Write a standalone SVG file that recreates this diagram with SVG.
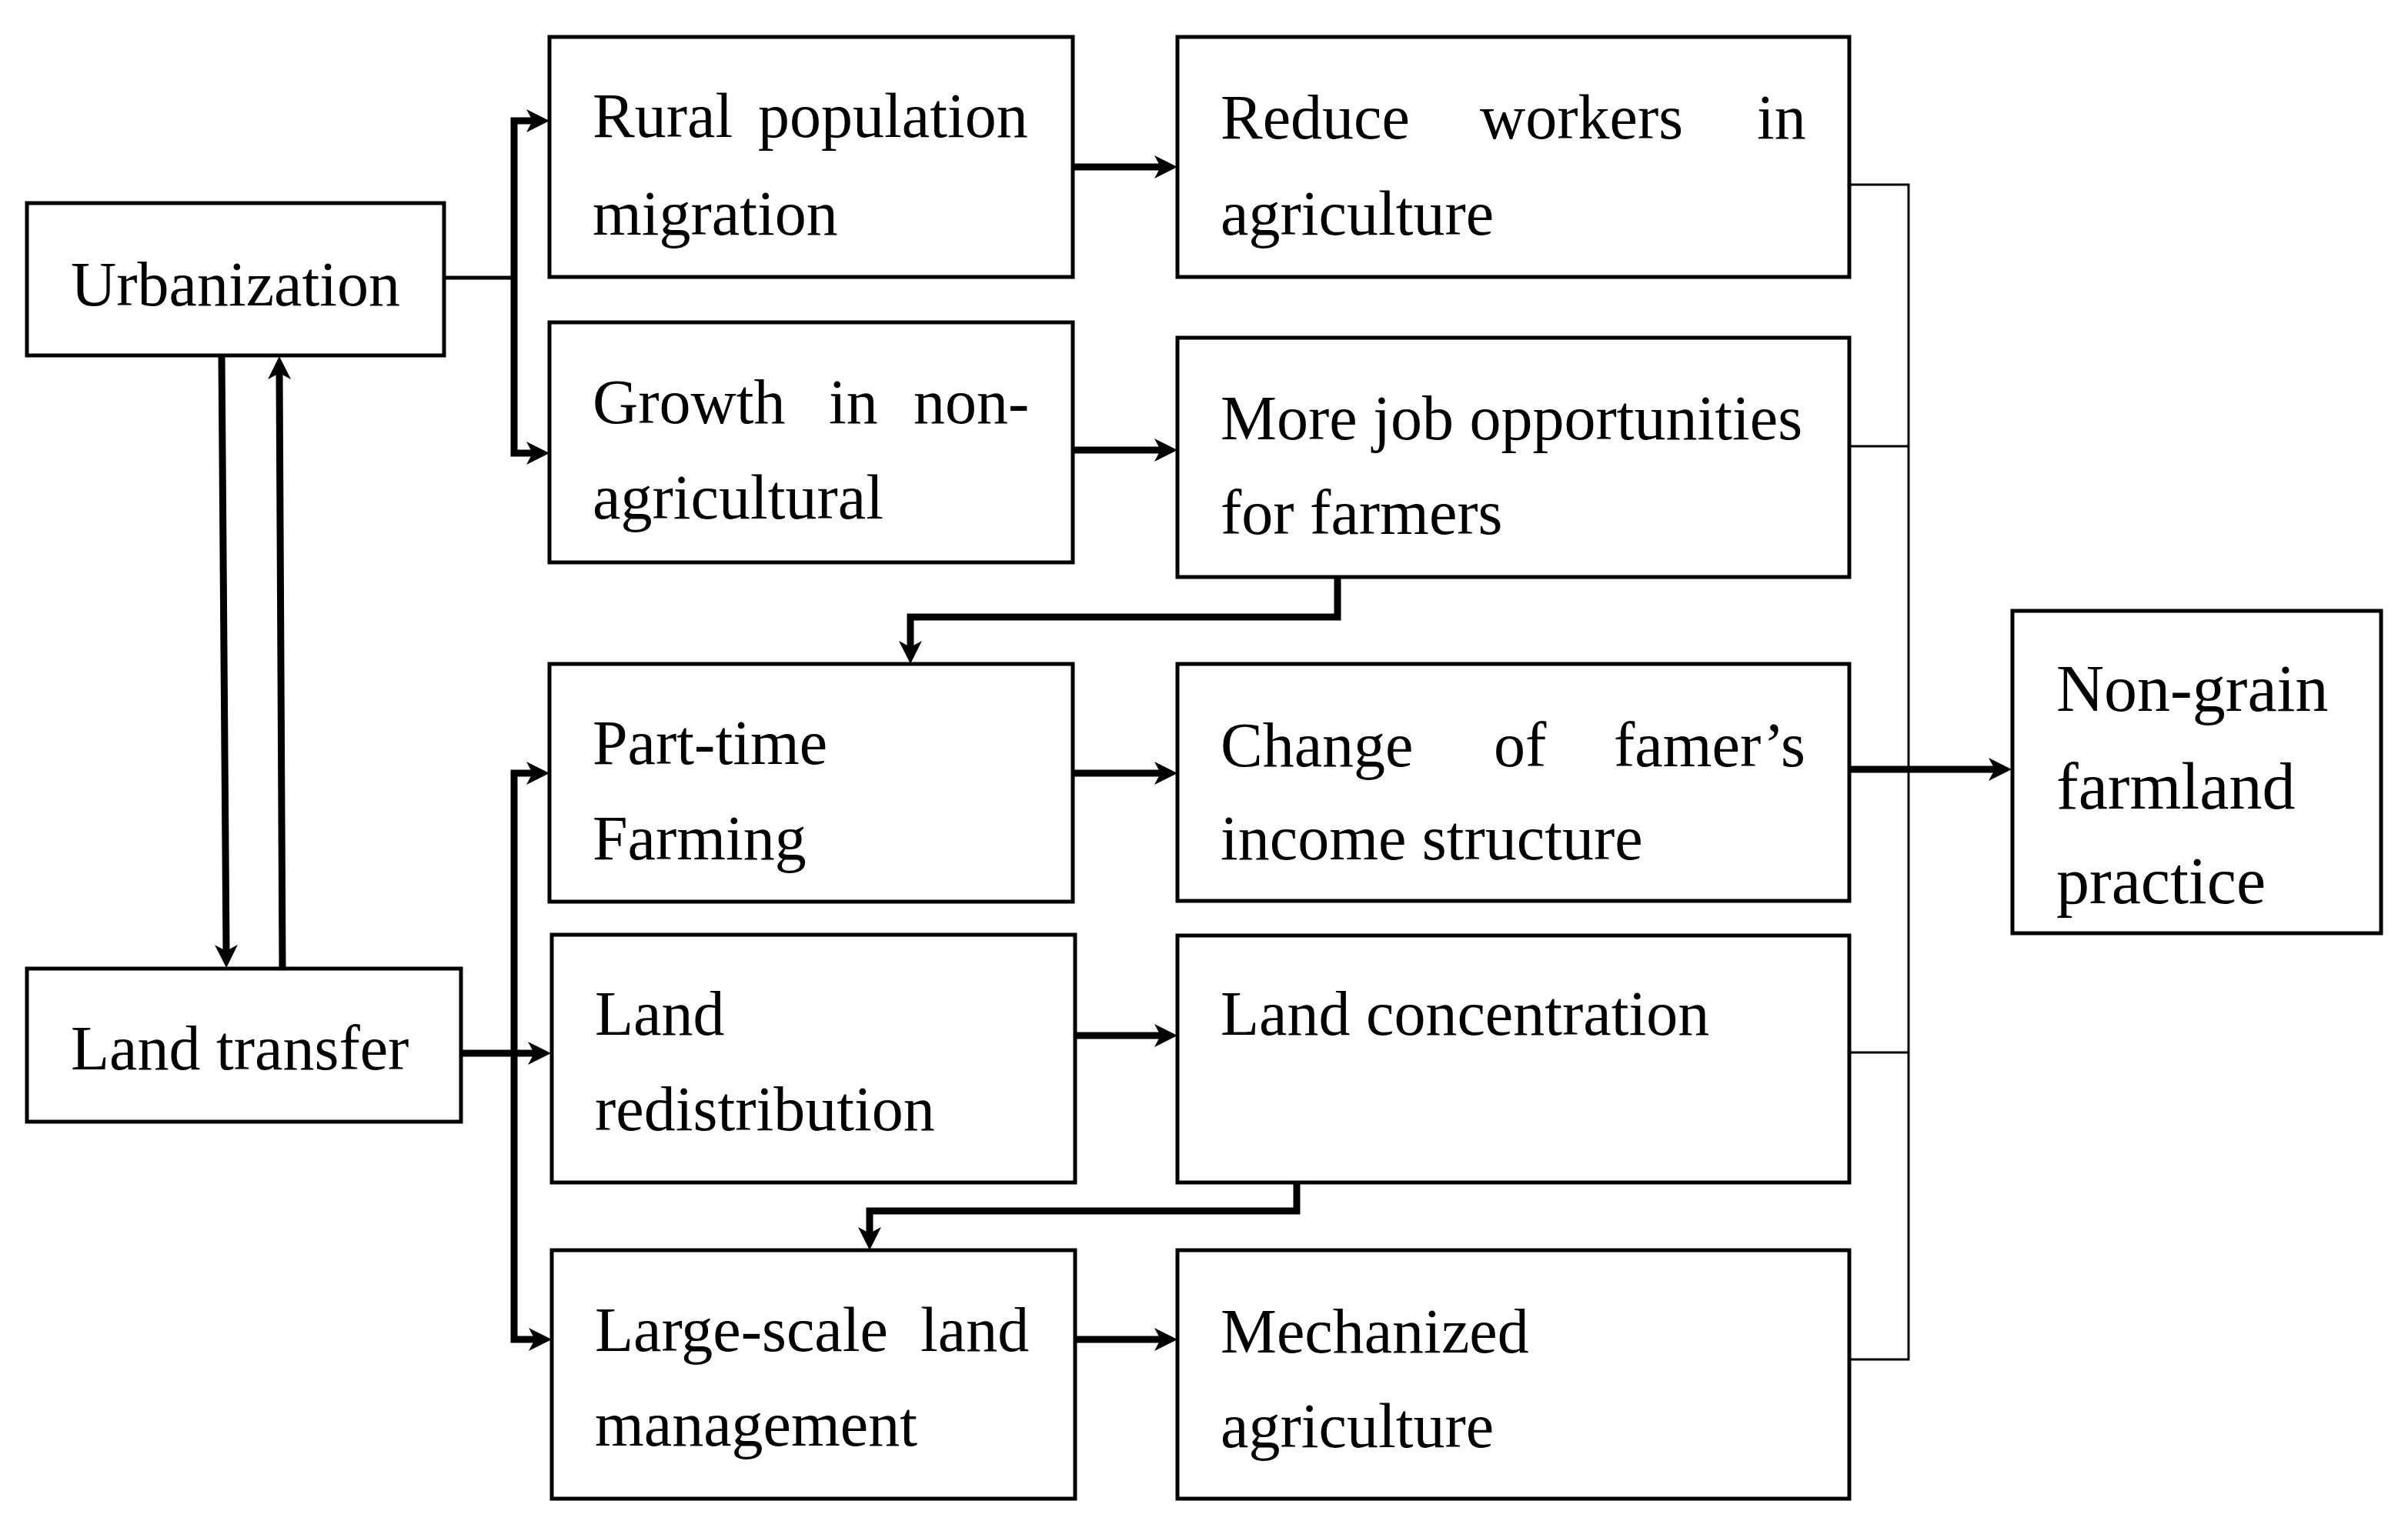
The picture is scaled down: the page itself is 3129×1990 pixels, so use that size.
<svg xmlns="http://www.w3.org/2000/svg" width="3129" height="1990" viewBox="0 0 3129 1990">
<style>
.box{fill:#fff;stroke:#000;stroke-width:5}
.t{font-family:"Liberation Serif","Times New Roman",serif;font-size:82px;fill:#000}
.thick{fill:none;stroke:#000;stroke-width:9}
.mid{fill:none;stroke:#000;stroke-width:5}
.thin{fill:none;stroke:#000;stroke-width:3}
</style>
<defs>
<marker id="ah" viewBox="0 0 30 30" markerWidth="30" markerHeight="30" refX="8" refY="15" orient="auto" markerUnits="userSpaceOnUse">
<path d="M0,0 L30,15 L0,30 L8,15 Z" fill="#000"/>
</marker>
</defs>
<rect width="3129" height="1990" fill="#fff"/>
<g id="connectors">
<path class="mid" d="M577,361 H668"/>
<path class="thick" d="M668,361 V157 H692" marker-end="url(#ah)"/>
<path class="thick" d="M668,361 V589 H692" marker-end="url(#ah)"/>
<path class="thick" d="M1394,217 H1508" marker-end="url(#ah)"/>
<path class="thick" d="M1394,585 H1508" marker-end="url(#ah)"/>
<path class="thick" d="M1738,750 V802 H1183 V841" marker-end="url(#ah)"/>
<path class="thick" d="M1685,1537 V1574 H1130 V1603" marker-end="url(#ah)"/>
<path class="thick" d="M592,1369 H694" marker-end="url(#ah)"/>
<path class="thick" d="M668,1369 V1005 H692" marker-end="url(#ah)"/>
<path class="thick" d="M668,1369 V1741 H695" marker-end="url(#ah)"/>
<path class="thick" d="M1394,1005 H1508" marker-end="url(#ah)"/>
<path class="thick" d="M1397,1346 H1508" marker-end="url(#ah)"/>
<path class="thick" d="M1397,1741 H1508" marker-end="url(#ah)"/>
<path class="thick" d="M288,462 L294,1236" marker-end="url(#ah)"/>
<path class="thick" d="M367,1258 L363,485" marker-end="url(#ah)"/>
<path class="thin" d="M2403,240 H2480 V1767 H2403"/>
<path class="thin" d="M2403,580 H2480"/>
<path class="thin" d="M2403,1368 H2480"/>
<path class="thick" d="M2403,1000 H2592" marker-end="url(#ah)"/>
</g>
<g id="urbanization">
<rect class="box" x="35" y="264" width="542" height="198"/>
<text class="t" x="92" y="397">Urbanization</text>
</g>
<g id="land-transfer">
<rect class="box" x="35" y="1259" width="564" height="199"/>
<text class="t" x="92" y="1390">Land transfer</text>
</g>
<g id="rural-population-migration">
<rect class="box" x="714" y="48" width="680" height="312"/>
<text class="t" y="178"><tspan x="770">Rural</tspan><tspan x="985">population</tspan></text>
<text class="t" x="770" y="305">migration</text>
</g>
<g id="growth-non-agricultural">
<rect class="box" x="714" y="419" width="680" height="312"/>
<text class="t" y="550"><tspan x="770">Growth</tspan><tspan x="1077">in</tspan><tspan x="1187">non-</tspan></text>
<text class="t" x="770" y="674">agricultural</text>
</g>
<g id="part-time-farming">
<rect class="box" x="714" y="863" width="680" height="309"/>
<text class="t" x="770" y="993">Part-time</text>
<text class="t" x="770" y="1117">Farming</text>
</g>
<g id="land-redistribution">
<rect class="box" x="717" y="1215" width="680" height="322"/>
<text class="t" x="773" y="1345">Land</text>
<text class="t" x="773" y="1469">redistribution</text>
</g>
<g id="large-scale-land-management">
<rect class="box" x="717" y="1625" width="680" height="323"/>
<text class="t" y="1756"><tspan x="773">Large-scale</tspan><tspan x="1196">land</tspan></text>
<text class="t" x="773" y="1879">management</text>
</g>
<g id="reduce-workers">
<rect class="box" x="1530" y="48" width="873" height="312"/>
<text class="t" y="180"><tspan x="1586">Reduce</tspan><tspan x="1923">workers</tspan><tspan x="2283">in</tspan></text>
<text class="t" x="1586" y="305">agriculture</text>
</g>
<g id="more-job-opportunities">
<rect class="box" x="1530" y="439" width="873" height="311"/>
<text class="t" x="1586" y="571">More job opportunities</text>
<text class="t" x="1586" y="694">for farmers</text>
</g>
<g id="income-structure">
<rect class="box" x="1530" y="863" width="873" height="308"/>
<text class="t" y="996"><tspan x="1586">Change</tspan><tspan x="1941">of</tspan><tspan x="2097">famer’s</tspan></text>
<text class="t" x="1586" y="1117">income structure</text>
</g>
<g id="land-concentration">
<rect class="box" x="1530" y="1216" width="873" height="321"/>
<text class="t" x="1586" y="1345">Land concentration</text>
</g>
<g id="mechanized-agriculture">
<rect class="box" x="1530" y="1625" width="873" height="323"/>
<text class="t" x="1586" y="1758">Mechanized</text>
<text class="t" x="1586" y="1881">agriculture</text>
</g>
<g id="non-grain">
<rect class="box" x="2615" y="794" width="479" height="419"/>
<text class="t" x="2672" y="924" style="font-size:86px">Non-grain</text>
<text class="t" x="2672" y="1051" style="font-size:86px">farmland</text>
<text class="t" x="2672" y="1174" style="font-size:86px">practice</text>
</g>
</svg>
